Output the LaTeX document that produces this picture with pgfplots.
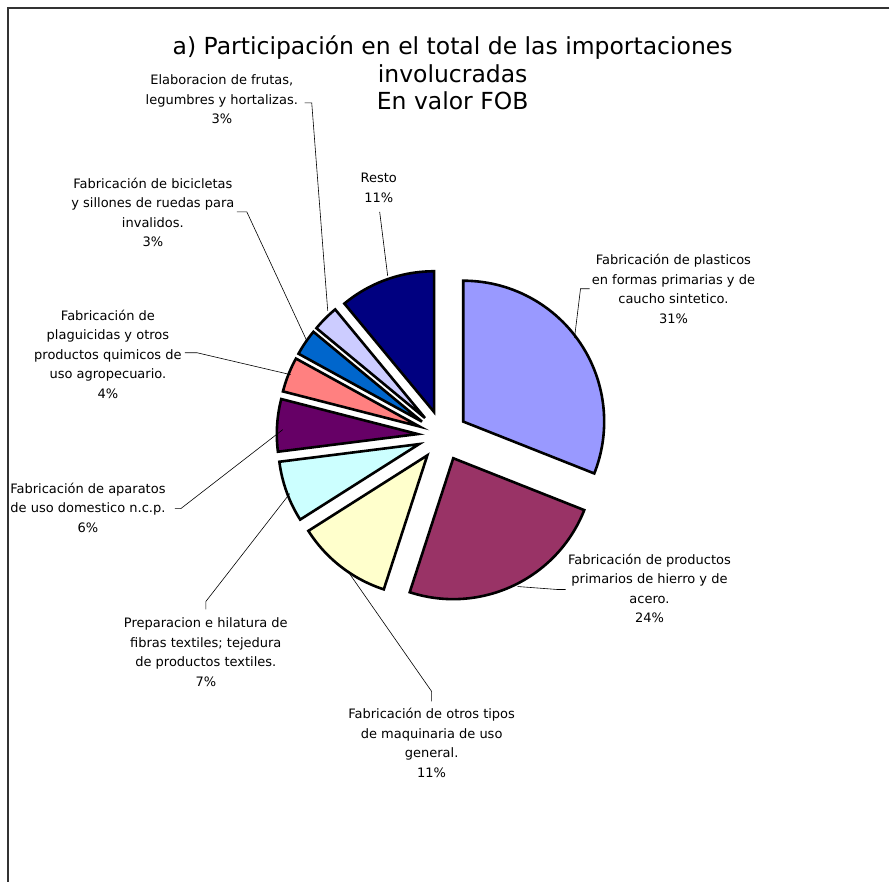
\documentclass[border=0pt]{standalone}
\usepackage{pgfplots}
\pgfplotsset{compat=1.18}
\usepackage{pgfplotstable}
\usepackage{fontspec}
\setmainfont{DejaVu Sans}

\definecolor{c1}{HTML}{9999FF}
\definecolor{c2}{HTML}{993366}
\definecolor{c3}{HTML}{FFFFCC}
\definecolor{c4}{HTML}{CCFFFF}
\definecolor{c5}{HTML}{660066}
\definecolor{c6}{HTML}{FF8080}
\definecolor{c7}{HTML}{0066CC}
\definecolor{c8}{HTML}{CCCCFF}
\definecolor{c9}{HTML}{000080}

% share of each sector (percent), clockwise from 12 o'clock
\pgfplotstableread{
val col
31 c1
24 c2
11 c3
7 c4
6 c5
4 c6
3 c7
3 c8
11 c9
}\piedata

\newcommand{\lab}{\fontsize{13}{19.6}\selectfont}

\begin{document}
\begin{tikzpicture}
\begin{axis}[x=1pt, y=1pt, xmin=0, xmax=890, ymin=0, ymax=883,
  y dir=reverse, hide axis, clip=false]
\path (axis cs:0,0) (axis cs:890,883);
\draw[line width=1.5pt, black!80] (axis cs:890,8) -- (axis cs:8,8) -- (axis cs:8,883);

\pgfplotstablegetrowsof{\piedata}
\pgfmathtruncatemacro\N{\pgfplotsretval-1}
\def\cum{0}
\pgfplotsforeachungrouped \i in {0,...,\N}{%
  \pgfplotstablegetelem{\i}{val}\of\piedata \let\v\pgfplotsretval
  \pgfplotstablegetelem{\i}{col}\of\piedata \let\c\pgfplotsretval
  \pgfmathsetmacro\sa{90-3.6*\cum}%
  \pgfmathsetmacro\ea{90-3.6*(\cum+\v)}%
  \pgfmathsetmacro\ma{(\sa+\ea)/2}%
  \pgfmathsetmacro\ax{443+25*cos(\ma)}%
  \pgfmathsetmacro\ay{436-25*sin(\ma)}%
  \edef\doslice{\noexpand\filldraw[fill=\c, draw=black, line width=2.6pt]
    (axis cs:\ax,\ay) -- ++(\sa:141pt) arc[start angle=\sa, end angle=\ea, radius=141pt] -- cycle;}%
  \doslice
  \pgfmathsetmacro\cum{\cum+\v}%
}

% leader lines
\begin{scope}[line width=0.6pt]
\draw (axis cs:590,289) -- (axis cs:581,289) -- (axis cs:575,338);
\draw (axis cs:518,587) -- (axis cs:558,590) -- (axis cs:566,590);
\draw (axis cs:349,573) -- (axis cs:432,692) -- (axis cs:432,702);
\draw (axis cs:290,494) -- (axis cs:206,602) -- (axis cs:206,610);
\draw (axis cs:283,430) -- (axis cs:181,509) -- (axis cs:175,509);
\draw (axis cs:291,375) -- (axis cs:197,353) -- (axis cs:185,353);
\draw (axis cs:307,341) -- (axis cs:247,212) -- (axis cs:237,212);
\draw (axis cs:328,311) -- (axis cs:312,103) -- (axis cs:305,103);
\draw (axis cs:388,276) -- (axis cs:380,212);
\end{scope}

% title
\node[align=center, font=\fontsize{23.5}{27.5}\selectfont] at (axis cs:453,73)
  {a) Participación en el total de las importaciones\\involucradas\\En valor FOB};

% labels
\node[align=center, font=\lab] at (axis cs:674,289) {Fabricación de plasticos\\en formas primarias y de\\caucho sintetico.\\31\%};
\node[align=center, font=\lab] at (axis cs:650,589) {Fabricación de productos\\primarios de hierro y de\\acero.\\24\%};
\node[align=center, font=\lab] at (axis cs:432,743.5) {Fabricación de otros tipos\\de maquinaria de uso\\general.\\11\%};
\node[align=center, font=\lab] at (axis cs:206,652.5) {Preparacion e hilatura de\\fibras textiles; tejedura\\de productos textiles.\\7\%};
\node[align=center, font=\lab] at (axis cs:88,508) {Fabricación de aparatos\\de uso domestico n.c.p.\\6\%};
\node[align=center, font=\lab] at (axis cs:108,354.5) {Fabricación de\\plaguicidas y otros\\productos quimicos de\\uso agropecuario.\\4\%};
\node[align=center, font=\lab] at (axis cs:153,212.5) {Fabricación de bicicletas\\y sillones de ruedas para\\invalidos.\\3\%};
\node[align=center, font=\lab] at (axis cs:222,99.5) {Elaboracion de frutas,\\legumbres y hortalizas.\\3\%};
\node[align=center, font=\lab] at (axis cs:379,188) {Resto\\11\%};
\end{axis}
\end{tikzpicture}
\end{document}
